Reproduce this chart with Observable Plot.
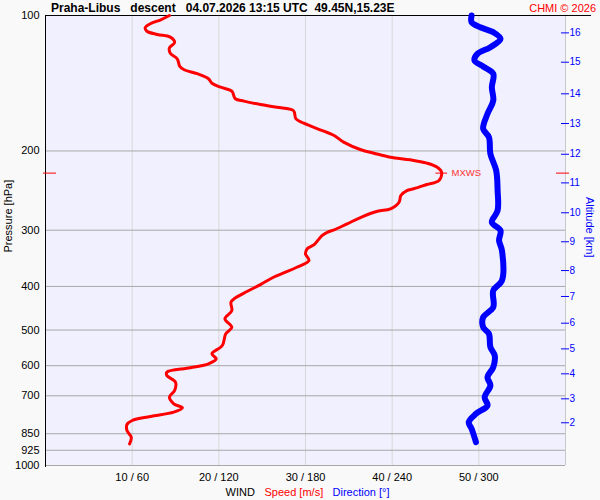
<!DOCTYPE html>
<html>
<head>
<meta charset="utf-8">
<script src="https://cdn.jsdelivr.net/npm/d3@7"></script>
<script src="https://cdn.jsdelivr.net/npm/@observablehq/plot@0.6"></script>
<style>
  html, body { margin: 0; padding: 0; background: #f9f9f9; }
</style>
</head>
<body>
<div id="chart"></div>
<script>
// Wind speed profile (pressure hPa, speed m/s)
const speedP = [100, 102.2, 104.3, 106.5, 108.4, 110.2, 111.7, 114.8, 118.0, 121.3, 124.8, 129.8, 132.0, 134.7, 138.2, 141.4, 144.3, 147.3, 153.1, 155.0, 157.7, 159.9, 162.6, 169.7, 173.5, 180.7, 184.8, 191.2, 198.8, 202.3, 206.5, 209.3, 212.9, 217.4, 223.0, 232.6, 237.5, 242.7, 244.9, 251.2, 260.0, 269.0, 272.3, 280.8, 290.4, 299.5, 303.2, 308.3, 322.9, 329.9, 338.5, 350.3, 362.6, 372.0, 381.7, 396.2, 410.1, 424.2, 433.8, 452.6, 472.1, 492.9, 509.8, 541.2, 564.7, 579.3, 594.3, 606.6, 620.4, 631.0, 653.1, 681.3, 705.1, 729.3, 744.4, 761.3, 778.3, 794.3, 810.8, 836.0, 865.2, 895.0];
const speedV = [14.3, 13.3, 12.1, 11.5, 11.7, 12.9, 14.4, 14.9, 14.3, 14.4, 15.2, 15.5, 16.0, 17.5, 18.8, 19.2, 20.2, 21.5, 21.9, 22.9, 24.8, 26.7, 28.6, 28.9, 29.8, 32.1, 33.3, 34.4, 36.4, 37.9, 39.8, 42.1, 44.0, 45.2, 45.7, 45.4, 44.0, 42.5, 41.7, 41.0, 40.8, 39.8, 38.3, 36.4, 34.8, 33.3, 32.5, 31.9, 31.0, 30.2, 30.0, 30.4, 29.0, 27.7, 26.3, 24.8, 23.3, 21.9, 21.4, 21.5, 20.7, 21.5, 20.8, 20.4, 19.2, 19.7, 18.8, 16.7, 14.0, 14.0, 15.0, 14.9, 14.3, 14.8, 15.8, 14.8, 12.1, 10.0, 9.4, 9.4, 9.9, 9.7];

// Wind direction profile (pressure hPa, direction deg)
const dirP = [100, 103.5, 106.2, 108.9, 112.7, 117.6, 121.7, 125.9, 129.8, 134.7, 144.3, 154.5, 165.4, 178.5, 186.4, 203.0, 221.0, 244.9, 271.3, 288.0, 300.5, 316.2, 332.9, 388.3, 408.5, 444.9, 468.3, 492.9, 509.8, 545.9, 569.6, 604.8, 636.5, 664.1, 705.1, 735.6, 767.6, 801.4, 828.8, 887.7];
const dirV = [295, 295, 301, 310, 315, 308, 299, 297, 303, 310, 309, 310, 306, 303, 307, 308, 312, 313, 313, 309, 315, 314, 316, 316, 310, 310, 303, 303, 307, 308, 311, 310, 306, 308, 304, 306, 298, 293, 295, 298];

// Max wind
const mxwsP = 224;
const mxwsV = 45.7;

// Axes
const pressureTicks = [100, 200, 300, 400, 500, 600, 700, 850, 925, 1000];
const pressureGrid = [200, 300, 400, 500, 600, 700, 850, 925, 1000];
const windTicks = [10, 20, 30, 40, 50];
const altKm = [2, 3, 4, 5, 6, 7, 8, 9, 10, 11, 12, 13, 14, 15, 16];
const altP = [803.6, 710.9, 625.6, 550.6, 482.8, 421.1, 368.8, 318.3, 274.4, 235.5, 203.4, 173.8, 149.3, 127.0, 109.3];

const speedData = speedP.map((p, i) => ({p, v: speedV[i]}));
const dirData = dirP.map((p, i) => ({p, v: dirV[i] / 6}));
const altMap = new Map(altP.map((p, i) => [p, altKm[i]]));

const chart = Plot.plot({
  width: 600,
  height: 500,
  marginLeft: 45,
  marginRight: 35,
  marginTop: 15,
  marginBottom: 35,
  style: {background: "#f9f9f9", fontFamily: "'Liberation Sans', Arial, sans-serif", fontSize: "11px", color: "black"},
  x: {domain: [0, 60], axis: null},
  y: {type: "log", domain: [100, 1000], reverse: true, axis: null},
  marks: [
    Plot.frame({fill: "#f0f0fe", stroke: null}),
    Plot.gridX(windTicks, {stroke: "#d8d8d8", strokeOpacity: 1}),
    Plot.gridY(pressureGrid, {stroke: "#a8a8a8", strokeOpacity: 1}),
    Plot.ruleX([60], {stroke: "#c8c8c8"}),
    Plot.ruleX([0], {stroke: "black", y1: 100, y2: 1010}),
    Plot.ruleY([100], {stroke: "black", x1: 0, x2: 63}),
    Plot.axisY(pressureTicks, {anchor: "left", label: null, tickSize: 0, tickPadding: 6, tickFormat: d => String(d), fill: "black", fontSize: 11}),
    Plot.axisX(windTicks, {anchor: "bottom", label: null, tickSize: 0, tickPadding: 8, tickFormat: d => `${d} / ${d * 6}`, fill: "black", fontSize: 11}),
    Plot.axisY(altP, {anchor: "right", label: null, tickSize: 8, tickPadding: 1, dx: -5, tickFormat: d => String(altMap.get(d)), stroke: "blue", fill: "blue", fontSize: 10}),
    Plot.axisY([mxwsP], {anchor: "left", label: null, tickSize: 13, dx: 11, tickFormat: () => "", stroke: "red"}),
    Plot.axisY([mxwsP], {anchor: "right", label: null, tickSize: 13, dx: -10, tickFormat: () => "", stroke: "red"}),
    Plot.line(dirData, {x: "v", y: "p", stroke: "#0000ff", strokeWidth: 6, curve: "catmull-rom", strokeLinecap: "round", strokeLinejoin: "round"}),
    Plot.line(speedData, {x: "v", y: "p", stroke: "#ff0000", strokeWidth: 3, curve: "catmull-rom", strokeLinejoin: "round"}),
    Plot.ruleY([{p: mxwsP, v: mxwsV}], {y: "p", x1: d => d.v - 0.65, x2: d => d.v + 0.7, stroke: "red"}),
    Plot.text([{p: mxwsP, v: mxwsV}], {x: "v", y: "p", text: () => "MXWS", dx: 10, textAnchor: "start", lineAnchor: "middle", fill: "#ff3333", fontSize: 9.5}),
    // Title and credits
    Plot.text(["Praha-Libus   descent   04.07.2026 13:15 UTC  49.45N,15.23E"], {text: d => d, frameAnchor: "top-left", dx: 5.5, dy: -7, textAnchor: "start", lineAnchor: "middle", fontWeight: "bold", fontSize: 12, fill: "black"}),
    Plot.text(["CHMI © 2026"], {text: d => d, frameAnchor: "top-right", dx: 30.5, dy: -7, textAnchor: "end", lineAnchor: "middle", fontSize: 11, fill: "red"}),
    // Axis titles
    Plot.text(["Pressure [hPa]"], {text: d => d, frameAnchor: "left", dx: -37.5, dy: 12, rotate: -90, lineAnchor: "middle", fontSize: 11, fill: "black"}),
    Plot.text(["Altitude [km]"], {text: d => d, frameAnchor: "right", dx: 24.5, dy: 17, rotate: 90, lineAnchor: "middle", fontSize: 11, fill: "blue"}),
    Plot.text(["WIND"], {text: d => d, frameAnchor: "bottom-left", dx: 180, dy: 26.5, textAnchor: "start", lineAnchor: "middle", fontSize: 11, fill: "black"}),
    Plot.text(["Speed [m/s]"], {text: d => d, frameAnchor: "bottom-left", dx: 219, dy: 26.5, textAnchor: "start", lineAnchor: "middle", fontSize: 11, fill: "red"}),
    Plot.text(["Direction [°]"], {text: d => d, frameAnchor: "bottom-left", dx: 287, dy: 26.5, textAnchor: "start", lineAnchor: "middle", fontSize: 11, fill: "blue"})
  ]
});
document.getElementById("chart").appendChild(chart);
</script>
</body>
</html>
